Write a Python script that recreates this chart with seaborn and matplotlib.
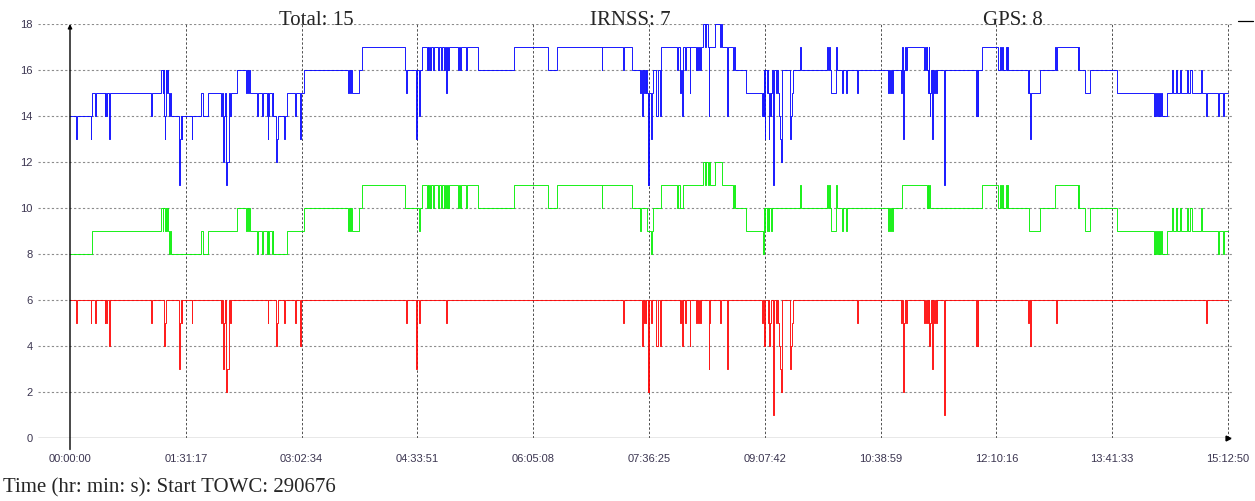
import numpy as np
import pandas as pd
import matplotlib
matplotlib.use("Agg")
import matplotlib.pyplot as plt
import seaborn as sns
from matplotlib.lines import Line2D

# Satellites in view over the session: change times (seconds from start) and counts
gps_t = [0, 1055, 4290, 4375, 4422, 4470, 4517, 4564, 4602, 4650, 4692, 4730, 4777, 6182, 6277, 6527,
         7875, 8325, 8372, 8419, 8467, 8514, 8821, 8869, 9067, 9105, 9304, 9342, 9380, 9413, 9540, 9578,
         9616, 10250, 11082, 13164, 13211, 13258, 13305, 13338, 13684, 13797, 15860, 16522, 16570, 16635,
         16871, 16909, 16947, 16989, 17028, 17065, 17184, 17217, 17420, 17467, 17548, 17595, 17666, 17713,
         17784, 17832, 17893, 17940, 18367, 18414, 18447, 18485, 18731, 18792, 19313, 21016, 22624, 23021,
         25150, 25183, 26599, 26961, 27008, 27277, 27471, 27518, 27560, 27954, 28725, 28767, 28853, 29009,
         29955, 30036, 30083, 30192, 30234, 30272, 30509, 30824, 31373, 31415, 31453, 31975, 32762, 32810,
         32848, 32895, 32943, 32990, 33037, 33084, 33132, 33188, 34529, 34567, 35820, 35862, 35900, 35947,
         35980, 36231, 36293, 36529, 36571, 36680, 36727, 38705, 38752, 38800, 38847, 38894, 38941, 39339,
         40522, 40560, 40598, 40631, 40669, 43153, 43910, 43989, 44027, 44070, 44108, 44259, 44297, 44335,
         44382, 45374, 45881, 46590, 47655, 47693, 47726, 48010, 48246, 49537, 51274, 51321, 51368, 51416,
         51463, 51510, 51558, 51605, 51652, 51899, 52124, 52172, 52314, 52361, 52517, 52550, 52834, 52882,
         52976, 53056, 53496, 53543, 54312, 54345, 54550, 54583]
gps_v = [8, 9, 10, 9, 10, 9, 10, 9, 10, 9, 8, 9, 8, 9, 8, 9,
         10, 9, 10, 9, 10, 9, 8, 9, 8, 9, 8, 9, 8, 9, 8, 9,
         8, 9, 10, 9, 10, 9, 10, 9, 10, 11, 10, 9, 10, 11,
         10, 11, 10, 11, 10, 11, 10, 11, 10, 11, 10, 11, 10, 11,
         10, 11, 10, 11, 10, 11, 10, 11, 10, 11, 10, 11, 10, 11,
         10, 11, 10, 9, 10, 9, 8, 9, 10, 11, 10, 11, 10, 11,
         12, 11, 12, 11, 12, 11, 12, 11, 10, 11, 10, 9, 8, 10,
         9, 10, 9, 10, 9, 10, 9, 10, 11, 10, 11, 10, 11, 10,
         9, 11, 10, 9, 10, 9, 10, 9, 10, 9, 10, 9, 10, 11,
         10, 11, 10, 11, 10, 11, 10, 11, 10, 11, 10, 11, 10, 11,
         10, 9, 10, 11, 10, 11, 10, 9, 10, 9, 8, 9, 8, 9,
         8, 9, 8, 9, 8, 9, 10, 9, 10, 9, 10, 9, 10, 9,
         10, 9, 10, 9, 8, 9, 8, 9]

irnss_t = [0, 289, 327, 974, 1012, 1192, 1230, 1641, 1679, 1712, 1745, 1859, 1897, 3831, 3869, 4465,
           4503, 4536, 5132, 5170, 5203, 5250, 5283, 5317, 5747, 5785, 7123, 7166, 7213, 7261, 7308, 7393,
           7436, 7507, 7558, 7592, 9346, 9384, 9744, 9782, 9815, 10108, 10146, 10652, 10690, 10888, 10926,
           15879, 15917, 16347, 16389, 16493, 16531, 17794, 17832, 26171, 26209, 27050, 27088, 27150, 27188,
           27221, 27254, 27320, 27355, 27370, 27405, 27500, 27538, 27718, 27788, 27897, 27935, 28853, 28900,
           28943, 28981, 29083, 29121, 29302, 29340, 29609, 29657, 29704, 29751, 29799, 29841, 30201, 30239,
           30272, 30745, 30783, 31067, 31105, 32723, 32761, 32831, 32869, 32992, 33039, 33082, 33124, 33172,
           33261, 33299, 33408, 33455, 33498, 33536, 33583, 33621, 33654, 34037, 34075, 34108, 34141, 34174,
           37225, 37263, 39296, 39343, 39386, 39433, 39481, 39519, 39566, 40375, 40418, 40465, 40512, 40560,
           40607, 40645, 40692, 40735, 40787, 40820, 40867, 40915, 40962, 41004, 41331, 41369, 42859, 42897,
           42930, 42968, 45327, 45370, 45398, 45436, 46638, 46676, 53752, 53790]
irnss_v = [6, 5, 6, 5, 6, 5, 6, 5, 6, 5, 6, 4, 6, 5, 6, 4,
           5, 6, 5, 3, 5, 6, 5, 6, 5, 6, 5, 6, 3, 5, 6, 2,
           3, 6, 5, 6, 5, 6, 4, 5, 6, 5, 6, 5, 6, 4, 6,
           5, 6, 3, 6, 5, 6, 5, 6, 5, 6, 4, 6, 5, 6,
           5, 6, 2, 6, 2, 6, 5, 6, 4, 6, 4, 6, 5, 6,
           4, 6, 5, 6, 4, 6, 5, 6, 5, 6, 5, 6, 3, 5,
           6, 5, 6, 3, 6, 5, 6, 4, 6, 5, 6, 4, 5, 6,
           1, 6, 5, 6, 5, 4, 3, 2, 6, 4, 3, 4, 5, 6,
           5, 6, 5, 6, 2, 5, 6, 5, 6, 5, 6, 5, 6, 5,
           6, 4, 5, 6, 3, 6, 5, 6, 5, 6, 1, 6, 4, 6,
           4, 6, 5, 6, 4, 6, 5, 6, 5, 6]

session_end = 54770
tick_t = [0, 5477, 10954, 16431, 21908, 27385, 32862, 38339, 43816, 49293, 54770]
tick_labels = ["00:00:00", "01:31:17", "03:02:34", "04:33:51", "06:05:08", "07:36:25",
               "09:07:42", "10:38:59", "12:10:16", "13:41:33", "15:12:50"]
y_ticks = [0, 2, 4, 6, 8, 10, 12, 14, 16, 18]

n_total, n_irnss, n_gps = 15, 7, 8
start_towc = 290676


def step_values(ts, vs, at):
    idx = np.searchsorted(np.asarray(ts), at, side="right") - 1
    return np.asarray(vs)[idx]


# Total in view is GPS + IRNSS at every change point of either system
all_t = np.union1d(gps_t, irnss_t)
total_v = step_values(gps_t, gps_v, all_t) + step_values(irnss_t, irnss_v, all_t)


def frame(ts, vs, name):
    ts = list(ts) + [session_end]
    vs = list(vs) + [vs[-1]]
    return pd.DataFrame({"t": ts, "n": vs, "series": name})


df = pd.concat([frame(all_t, total_v, "Total"),
                frame(gps_t, gps_v, "GPS"),
                frame(irnss_t, irnss_v, "IRNSS")], ignore_index=True)

sns.set_style("white")
plt.rcParams["font.family"] = ["Liberation Sans", "DejaVu Sans"]

W, H = 1255, 501
fig = plt.figure(figsize=(W / 100, H / 100), dpi=100)
px_left, px_right, px_top, px_bottom = 38, 1232, 24, 438
ax = fig.add_axes([px_left / W, 1 - px_bottom / H, (px_right - px_left) / W, (px_bottom - px_top) / H])

sec_per_px = session_end / (1228 - 70)
ax.set_xlim((px_left - 70) * sec_per_px, (px_right - 70) * sec_per_px)
ax.set_ylim(0, 18)

# grid: light dotted rows, darker dashed columns
for y in y_ticks[1:]:
    ax.axhline(y, color="#8c8c8c", lw=0.8, linestyle=(0, (2.0, 2.0)), zorder=1)
for t in tick_t[1:]:
    ax.axvline(t, color="#505050", lw=0.7, linestyle=(0, (2.5, 2.0)), zorder=1)
ax.axhline(0, color="#8a8a8a", lw=1.0, zorder=1)

palette = {"Total": "#0000ff", "GPS": "#00ee00", "IRNSS": "#ff0000"}
sns.lineplot(data=df, x="t", y="n", hue="series", palette=palette, estimator=None, sort=False,
             drawstyle="steps-post", lw=0.7, alpha=0.9, legend=False, ax=ax, zorder=3)

for s in ax.spines.values():
    s.set_visible(False)

ax.set_xticks(tick_t)
ax.set_xticklabels(tick_labels)
ax.set_yticks(y_ticks)
ax.set_yticklabels([str(v) for v in y_ticks])
ax.tick_params(axis="x", direction="out", length=8.5, width=0.9, color="#222222",
               labelsize=8, labelcolor="#3b3550", pad=3)
ax.tick_params(axis="y", length=0, labelsize=8, labelcolor="#3b3550", pad=4)
ax.set_xlabel("")
ax.set_ylabel("")

# vertical axis arrow at time zero and end marker
ax.annotate("", xy=(0, 18), xytext=(0, -0.5), xycoords="data",
            arrowprops=dict(arrowstyle="-|>", color="black", lw=1.0, mutation_scale=6,
                            shrinkA=0, shrinkB=0), annotation_clip=False, zorder=5)
ax.plot([session_end], [0], marker=">", color="black", ms=3.5, clip_on=False, zorder=5)

serif = ["Liberation Serif", "DejaVu Serif"]
fig.text(316 / W, 1 - 25 / H, f"Total: {n_total}", ha="center", va="baseline", fontsize=15, family=serif)
fig.text(630 / W, 1 - 25 / H, f"IRNSS: {n_irnss}", ha="center", va="baseline", fontsize=15, family=serif)
fig.text(1013 / W, 1 - 25 / H, f"GPS: {n_gps}", ha="center", va="baseline", fontsize=15, family=serif)
fig.add_artist(Line2D([1238 / W, 1253 / W], [1 - 20.5 / H, 1 - 20.5 / H], color="black", lw=0.9))
fig.text(3 / W, 1 - 492 / H, f"Time (hr: min: s): Start TOWC: {start_towc}", ha="left", va="baseline",
         fontsize=15, family=serif)

fig.savefig("out.png", dpi=100)
